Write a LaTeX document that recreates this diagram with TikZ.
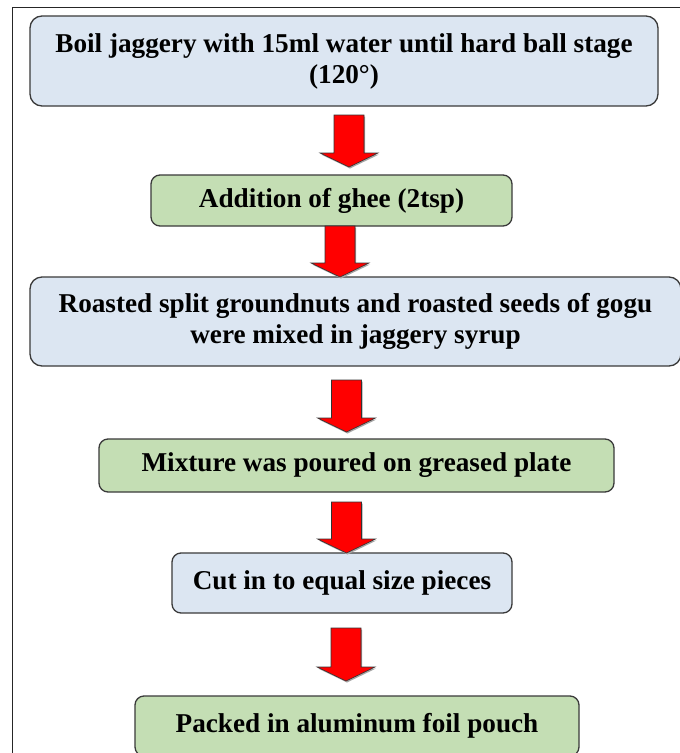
\documentclass[tikz,border=0pt]{standalone}
\usepackage{fontspec}
\setmainfont{Liberation Serif}
\usetikzlibrary{calc}
\definecolor{boxblue}{HTML}{DCE6F2}
\definecolor{boxgreen}{HTML}{C4DEB4}
\definecolor{boxline}{HTML}{3A3A3A}
\tikzset{
  stepbox/.style={draw=boxline, line width=1.3pt, rounded corners=12pt,
    align=center, inner sep=0pt, font=\fontsize{27.2}{31}\selectfont\bfseries},
  bluebox/.style={stepbox, fill=boxblue},
  greenbox/.style={stepbox, fill=boxgreen},
  redarrow/.style={fill=red, draw=black!80, line width=0.6pt, line join=miter},
  arrowshadow/.style={fill=black!35, draw=none},
  framelines/.style={draw=black!85, line width=1pt}
}
\newcommand{\blockarrow}[2]{%
  \path let \p1=(#1), \p2=(#2) in
    coordinate (tmpA) at (\x1,\y1) coordinate (tmpB) at (\x2,\y2);
  \fill[arrowshadow] ($(tmpA)+(-14,1.5)$) -- ($(tmpA)+(16,1.5)$) -- ($(tmpB)+(16,-12.5)$)
     -- ($(tmpB)+(30,-12.5)$) -- ($(tmpB)+(1,1.5)$) -- ($(tmpB)+(-28,-12.5)$)
     -- ($(tmpB)+(-14,-12.5)$) -- cycle;
  \draw[redarrow] ($(tmpA)+(-15,0)$) -- ($(tmpA)+(15,0)$) -- ($(tmpB)+(15,-14)$)
     -- ($(tmpB)+(29,-14)$) -- (tmpB) -- ($(tmpB)+(-29,-14)$)
     -- ($(tmpB)+(-15,-14)$) -- cycle;
}
\begin{document}
\begin{tikzpicture}[x=1pt,y=-1pt]
\useasboundingbox (0,0) rectangle (680,753);
\clip (0,0) rectangle (680,753);
\fill[white] (0,0) rectangle (680,753);
% outer frame
\draw[framelines] (12,760) -- (12,7) -- (690,7);
% boxes
\node[bluebox, minimum width=628pt, minimum height=90pt] (b1) at (344,61)
  {Boil jaggery with 15ml water until hard ball stage\\(120°)};
\node[greenbox, rounded corners=9pt, minimum width=361pt, minimum height=51pt] (b2) at (331.5,200.5)
  {Addition of ghee (2tsp)};
\node[bluebox, minimum width=651pt, minimum height=89pt] (b3) at (355.5,321.5)
  {Roasted split groundnuts and roasted seeds of gogu\\were mixed in jaggery syrup};
\node[greenbox, rounded corners=9pt, minimum width=515pt, minimum height=53pt] (b4) at (356.5,465.5)
  {Mixture was poured on greased plate};
\node[bluebox, rounded corners=9pt, minimum width=340pt, minimum height=60pt] (b5) at (342,583)
  {Cut in to equal size pieces};
\node[greenbox, rounded corners=9pt, minimum width=444pt, minimum height=60pt] (b6) at (357,726)
  {Packed in aluminum foil pouch};
% arrow end points
\coordinate (a1s) at (349,115); \coordinate (a1e) at (349,167);
\coordinate (a2s) at (340,226); \coordinate (a2e) at (340,277);
\coordinate (a3s) at (346.5,380); \coordinate (a3e) at (346.5,432);
\coordinate (a4s) at (346.5,502); \coordinate (a4e) at (346.5,553);
\coordinate (a5s) at (346,628); \coordinate (a5e) at (346,681);
\blockarrow{a1s}{a1e}
\blockarrow{a2s}{a2e}
\blockarrow{a3s}{a3e}
\blockarrow{a4s}{a4e}
\blockarrow{a5s}{a5e}
\end{tikzpicture}
\end{document}
